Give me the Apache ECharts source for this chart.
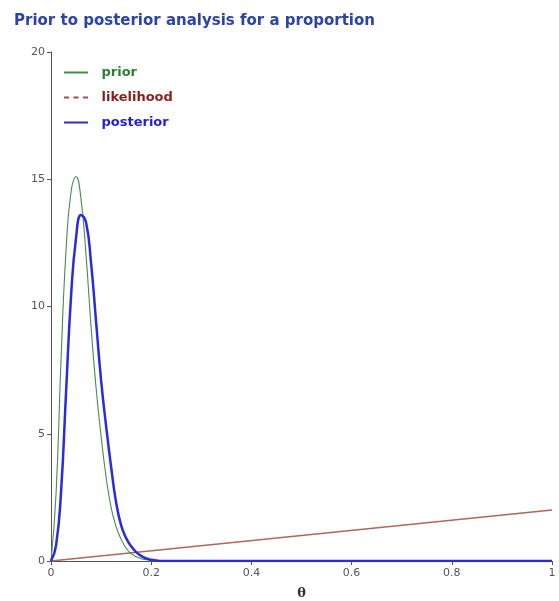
<!DOCTYPE html>
<html>
<head>
<meta charset="utf-8">
<script src="https://cdn.jsdelivr.net/npm/echarts@6/dist/echarts.min.js"></script>
<style>
html,body{margin:0;padding:0;background:#fff;}
#chart{width:559px;height:601px;}
</style>
</head>
<body>
<div id="chart"></div>
<script>
// θ grid
var theta = [0, 0.01, 0.02, 0.03, 0.04, 0.05, 0.06, 0.07, 0.08, 0.09, 0.10, 0.11, 0.12, 0.13, 0.14, 0.15, 0.16, 0.17, 0.18, 0.19, 0.20, 0.21, 0.22, 0.25, 0.3, 0.4, 0.5, 0.6, 0.7, 0.8, 0.9, 1.0];
var prior = [0, 2.6, 7.9, 12.2, 14.5, 15.1, 14.2, 12.0, 9.2, 6.8, 4.9, 3.3, 2.1, 1.35, 0.85, 0.5, 0.29, 0.17, 0.09, 0.05, 0.03, 0.01, 0, 0, 0, 0, 0, 0, 0, 0, 0, 0];
var posterior = [0, 0.6, 2.7, 6.6, 10.4, 12.7, 13.6, 13.3, 11.7, 9.4, 7.1, 5.3, 3.7, 2.3, 1.4, 0.9, 0.58, 0.35, 0.2, 0.1, 0.05, 0.02, 0, 0, 0, 0, 0, 0, 0, 0, 0, 0];
var likTheta = [0, 1];
var likelihood = [0, 2];
var seriesNames = ['prior', 'likelihood', 'posterior'];
var yTicks = [0, 5, 10, 15, 20];
var xTicks = [0, 0.2, 0.4, 0.6, 0.8, 1];

function pairs(xs, ys) { return xs.map(function (x, i) { return [x, ys[i]]; }); }

var solidIcon = 'path://M0,0h24v2h-24z';
var dashIcon = 'path://M0,0h5v2h-5zM9.5,0h5v2h-5zM19,0h5v2h-5z';

var chart = echarts.init(document.getElementById('chart'));
chart.setOption({
  animation: false,
  backgroundColor: '#ffffff',
  title: {
    text: 'Prior to posterior analysis for a proportion',
    left: 9, top: 9,
    textStyle: { fontFamily: 'DejaVu Sans', fontSize: 15, fontWeight: 'bold', color: '#2b44a8' }
  },
  legend: {
    orient: 'vertical', left: 59, top: 61,
    itemWidth: 25, itemHeight: 2, itemGap: 12,
    textStyle: { fontFamily: 'DejaVu Sans', fontSize: 13, fontWeight: 'bold', padding: [0, 0, 0, 8] },
    data: [
      { name: seriesNames[0], icon: solidIcon, itemStyle: { color: '#4a8a4a' }, textStyle: { color: '#2e7d32' } },
      { name: seriesNames[1], icon: dashIcon, itemStyle: { color: '#a0524a' }, textStyle: { color: '#8b1c1c' } },
      { name: seriesNames[2], icon: solidIcon, itemStyle: { color: '#2a2ae0' }, textStyle: { color: '#1f1fd6' } }
    ]
  },
  grid: { left: 51, right: 7, top: 52, bottom: 40, outerBoundsMode: 'none', containLabel: false },
  xAxis: {
    type: 'value', min: 0, max: 1, interval: 0.2,
    name: 'θ', nameLocation: 'middle', nameGap: 26,
    nameTextStyle: { fontFamily: 'DejaVu Serif', fontSize: 13, fontWeight: 'bold', color: '#333' },
    axisLine: { show: true, lineStyle: { color: '#555', width: 1 } },
    axisTick: { show: true, length: 4, lineStyle: { color: '#555' } },
    axisLabel: { fontFamily: 'DejaVu Sans', fontSize: 11, color: '#555', margin: 7,
      formatter: function (v) { return xTicks.indexOf(Math.round(v * 10) / 10) >= 0 ? String(Math.round(v * 10) / 10) : ''; } },
    splitLine: { show: false }
  },
  yAxis: {
    type: 'value', min: 0, max: 20, interval: 5,
    axisLine: { show: true, lineStyle: { color: '#555', width: 1 } },
    axisTick: { show: true, length: 4, lineStyle: { color: '#555' } },
    axisLabel: { fontFamily: 'DejaVu Sans', fontSize: 11, color: '#555', margin: 6,
      formatter: function (v) { return yTicks.indexOf(v) >= 0 ? String(v) : ''; } },
    splitLine: { show: false }
  },
  series: [
    { name: seriesNames[0], type: 'line', data: pairs(theta, prior), symbol: 'none', smooth: 0.5,
      lineStyle: { color: '#4a8a4a', width: 1.1 }, itemStyle: { color: '#4a8a4a' }, z: 2 },
    { name: seriesNames[1], type: 'line', data: pairs(likTheta, likelihood), symbol: 'none',
      lineStyle: { color: '#b0665e', width: 1.5 }, itemStyle: { color: '#a0524a' }, z: 1 },
    { name: seriesNames[2], type: 'line', data: pairs(theta, posterior), symbol: 'none', smooth: 0.5,
      lineStyle: { color: '#2a2ae0', width: 2.5 }, itemStyle: { color: '#2a2ae0' }, z: 3 }
  ]
});
</script>
</body>
</html>
